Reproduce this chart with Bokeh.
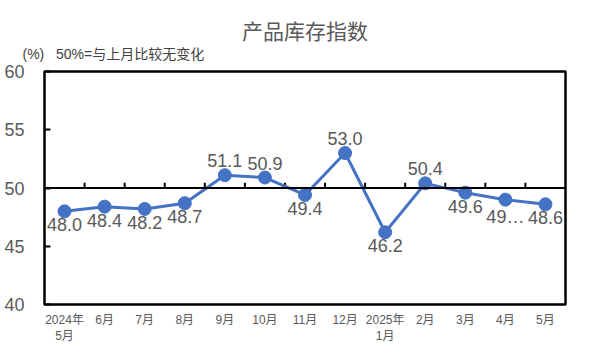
from bokeh.plotting import figure
from bokeh.models import Range1d, FixedTicker, ColumnDataSource, Span, Title
from bokeh.core.properties import value
from bokeh.embed import file_html
from bokeh.resources import INLINE

categories = ["2024年\n5月", "6月", "7月", "8月", "9月", "10月", "11月", "12月",
              "2025年\n1月", "2月", "3月", "4月", "5月"]
values = [48.0, 48.4, 48.2, 48.7, 51.1, 50.9, 49.4, 53.0, 46.2, 50.4, 49.6, 49.0, 48.6]
point_labels = ["48.0", "48.4", "48.2", "48.7", "51.1", "50.9", "49.4", "53.0",
                "46.2", "50.4", "49.6", "49…", "48.6"]
label_above = [False, False, False, False, True, True, False, True, False, True, False, False, False]
y_ticks = [40, 45, 50, 55, 60]
title_text = "产品库存指数"
note_text = "(%)\u00a0\u00a0\u00a050%=与上月比较无变化"

FONT = "Liberation Sans, Noto Sans CJK SC"
GRAY = "#595959"
BLUE = "#4472C4"

n = len(categories)
xs = [i + 0.5 for i in range(n)]

p = figure(width=591, height=354, output_backend="svg", toolbar_location=None,
           x_range=Range1d(0, n), y_range=Range1d(40, 60), title=None,
           min_border_left=44, min_border_right=26, min_border_top=71, min_border_bottom=50)
p.grid.visible = False
p.outline_line_color = "black"
p.outline_line_width = 2.5
p.background_fill_color = "white"
p.border_fill_color = "white"

# y axis
p.yaxis.ticker = FixedTicker(ticks=y_ticks)
p.yaxis.major_tick_in = 6
p.yaxis.major_tick_out = 0
p.yaxis.major_tick_line_width = 2
p.yaxis.major_tick_line_color = "black"
p.yaxis.minor_tick_line_color = None
p.yaxis.axis_line_color = None
p.yaxis.major_label_text_font = FONT
p.yaxis.major_label_text_font_size = "18px"
p.yaxis.major_label_text_color = GRAY
p.yaxis.major_label_standoff = 20

# x axis
p.xaxis.ticker = FixedTicker(ticks=xs)
p.xaxis.major_label_overrides = {x: c for x, c in zip(xs, categories)}
p.xaxis.major_tick_line_color = None
p.xaxis.minor_tick_line_color = None
p.xaxis.axis_line_color = None
p.xaxis.major_label_text_font = FONT
p.xaxis.major_label_text_font_size = "12px"
p.xaxis.major_label_text_color = GRAY
p.xaxis.major_label_standoff = 2

# 50 reference line with category boundary ticks
p.add_layout(Span(location=50, dimension="width", line_color="black", line_width=2))
bx = list(range(1, n))
p.segment(x0=bx, y0=[50] * len(bx), x1=bx, y1=[50.45] * len(bx), line_color="black", line_width=2)

src = ColumnDataSource(dict(x=xs, y=values, lab=point_labels))
p.line("x", "y", source=src, line_color=BLUE, line_width=3)
p.scatter("x", "y", source=src, size=13, fill_color=BLUE, line_color=BLUE)

above = ColumnDataSource(dict(x=[x for x, a in zip(xs, label_above) if a],
                              y=[v for v, a in zip(values, label_above) if a],
                              lab=[l for l, a in zip(point_labels, label_above) if a]))
below = ColumnDataSource(dict(x=[x for x, a in zip(xs, label_above) if not a],
                              y=[v for v, a in zip(values, label_above) if not a],
                              lab=[l for l, a in zip(point_labels, label_above) if not a]))
p.text("x", "y", text="lab", source=above, text_align="center", text_baseline="bottom",
       y_offset=-8, text_font=value(FONT), text_font_size="18px", text_color=GRAY)
p.text("x", "y", text="lab", source=below, text_align="center", text_baseline="top",
       y_offset=7, text_font=value(FONT), text_font_size="18px", text_color=GRAY)

note = Title(text=note_text, align="left", offset=-22, text_font=FONT, text_font_size="14px",
             text_font_style="normal", text_color="#404040", standoff=19)
main = Title(text=title_text, align="center", text_font=FONT, text_font_size="21px",
             text_font_style="normal", text_color=GRAY, standoff=-16)
p.add_layout(note, "above")
p.add_layout(main, "above")

open("out.html", "w").write(file_html(p, INLINE))
